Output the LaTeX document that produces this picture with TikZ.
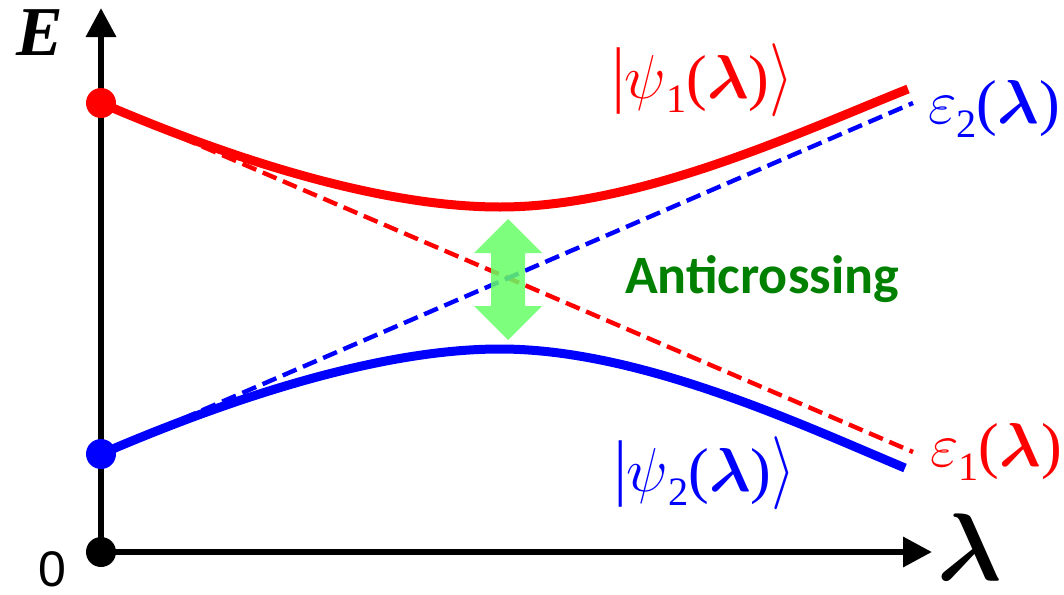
\documentclass[tikz,border=0pt]{standalone}
\usepackage{fix-cm}
\usepackage{amsmath}
\usepackage{fontspec}
\usepackage{tikz}
\usetikzlibrary{arrows.meta}
\newfontfamily\tnr{Liberation Serif}
\newfontfamily\arialf{Liberation Sans}
\newfontfamily\calib{Carlito}
\definecolor{lgreen}{RGB}{102,255,102}
\definecolor{dgreen}{RGB}{0,128,0}
\newcommand{\kbar}{\scalebox{1}[1.18]{|}}
\newcommand{\kang}{\scalebox{1}[1.18]{$\rangle$}}
\newcommand{\lsub}[1]{\raisebox{-0.24em}{\scalebox{0.65}{#1}}}
\newcommand{\blam}{$\boldsymbol{\lambda}$}

\begin{document}
\begin{tikzpicture}[x=0.5pt, y=-0.5pt,
  axis/.style={line width=3.2pt, -{Triangle[length=14.5pt,width=14.5pt]}},
  level/.style={line width=4.5pt},
  diab/.style={line width=2.2pt, dash pattern=on 7.5pt off 3.5pt},
  ketlab/.style={inner sep=0pt, anchor=base, font=\tnr\fontsize{31}{37}\selectfont},
  epslab/.style={inner sep=0pt, anchor=base west, font=\tnr\fontsize{31}{37}\selectfont}]
\useasboundingbox (0,0) rectangle (1064,594);
\coordinate (O) at (101,552);
\coordinate (Etop) at (101,8);
\coordinate (Lend) at (932,552);
\coordinate (P1) at (101,103);
\coordinate (P2) at (101,454);
\coordinate (Q1) at (913,452);
\coordinate (Q2) at (913,103);

% axes
\draw[axis] (O) -- (Etop);
\draw[axis] (O) -- (Lend);
\node[font=\tnr\bfseries\itshape\fontsize{35}{40}\selectfont] (Elab) at (40,33) {E};
\node[font=\fontsize{48}{52}\selectfont, inner sep=0pt, anchor=base] (Llab) at (970,580) {\blam};
\node[font=\arialf\fontsize{25}{28}\selectfont, inner sep=0pt, anchor=base] (zero) at (52,586) {0};

% diabatic levels
\draw[diab, red] (P1) -- (Q1);
\draw[diab, blue] (P2) -- (Q2);
\node[epslab, red] (e1) at (930,466) {$\varepsilon$\lsub{1}(\blam)};
\node[epslab, blue] (e2) at (928,123) {$\varepsilon$\lsub{2}(\blam)};

% adiabatic levels
\draw[level, red] (P1) .. controls (231,159) and (380,207) .. (500,207)
  .. controls (640,207) and (798,133) .. (908,89);
\draw[level, blue] (P2) .. controls (231,398) and (380,349) .. (500,349)
  .. controls (640,349) and (800,424) .. (905,468);
\node[ketlab, red] (k1) at (703,98) {\kbar$\psi$\lsub{1}(\blam)\kang};
\node[ketlab, blue] (k2) at (705,491) {\kbar$\psi$\lsub{2}(\blam)\kang};

\fill[black] (O) circle (7.5pt);
\fill[red] (P1) circle (7.5pt);
\fill[blue] (P2) circle (7.5pt);

% gap
\fill[lgreen, fill opacity=0.85] (508,219) -- (542,253) -- (525,253) -- (525,306)
  -- (542,306) -- (508,340) -- (474,306) -- (491,306) -- (491,253) -- (474,253) -- cycle;
\node[font=\calib\bfseries\fontsize{27}{32}\selectfont, text=dgreen, anchor=base] (gap) at (762,293) {Anticrossing};
\end{tikzpicture}
\end{document}
